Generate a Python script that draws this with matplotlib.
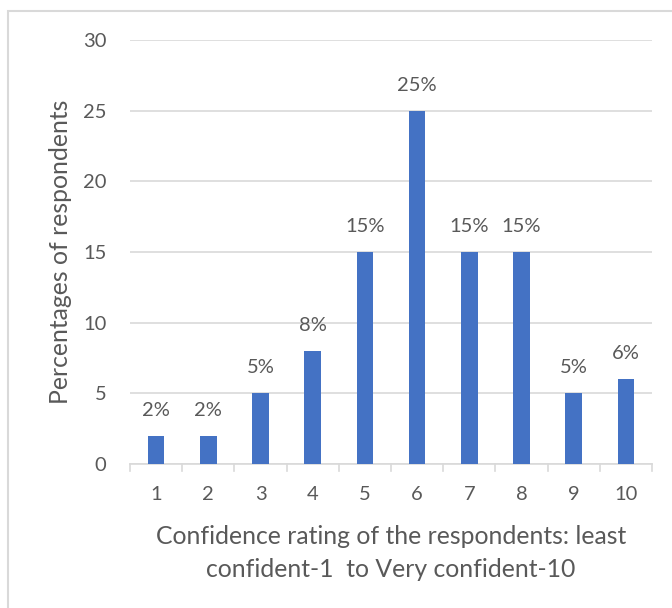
import matplotlib
matplotlib.use('agg')
import matplotlib.pyplot as plt
from matplotlib.patches import Rectangle

ratings = ['1', '2', '3', '4', '5', '6', '7', '8', '9', '10']
percents = [2, 2, 5, 8, 15, 25, 15, 15, 5, 6]
bar_labels = ['2%', '2%', '5%', '8%', '15%', '25%', '15%', '15%', '5%', '6%']
yticks = [0, 5, 10, 15, 20, 25, 30]

txt = '#595959'
plt.rcParams['font.family'] = ['Lato', 'DejaVu Sans']

fig = plt.figure(figsize=(6.72, 6.08), dpi=100)
# light border round the chart area like in Excel (cut off at right/bottom)
fig.patches.append(Rectangle((8/672, -0.1), 1.0, 1.1 - 11/608, transform=fig.transFigure,
                             fill=False, edgecolor='#d9d9d9', linewidth=1.5))

ax = fig.add_axes([130/672, 1 - 464/608, 522/672, 424/608])
x = range(len(ratings))
ax.bar(x, percents, width=0.32, color='#4472c4', zorder=3)
for xi, v, lab in zip(x, percents, bar_labels):
    ax.text(xi, v + 1.2, lab, ha='center', va='bottom', fontsize=14.5, color=txt)

ax.set_xlim(-0.5, len(ratings) - 0.5)
ax.set_ylim(0, 30)
ax.set_yticks(yticks)
ax.set_xticks(list(x))
ax.set_xticklabels(ratings)
ax.yaxis.grid(True, color='#d9d9d9', linewidth=1.2, zorder=0)
for s in ['top', 'right', 'left']:
    ax.spines[s].set_visible(False)
ax.spines['bottom'].set_color('#d9d9d9')
ax.spines['bottom'].set_linewidth(1.2)
ax.tick_params(axis='y', length=0, pad=17, labelsize=14.5, labelcolor=txt)
ax.tick_params(axis='x', length=0, pad=16, labelsize=14.5, labelcolor=txt)
# category separators below the axis
for b in range(len(ratings) + 1):
    ax.plot([b - 0.5, b - 0.5], [0, -0.5], color='#d9d9d9', lw=1.2, clip_on=False)

ax.set_ylabel('Percentages of respondents', fontsize=17.8, color=txt, labelpad=8)
ax.set_xlabel('Confidence rating of the respondents: least\nconfident-1  to Very confident-10',
              fontsize=17.8, color=txt, labelpad=16, linespacing=1.5)

fig.savefig('out.png', dpi=100)
